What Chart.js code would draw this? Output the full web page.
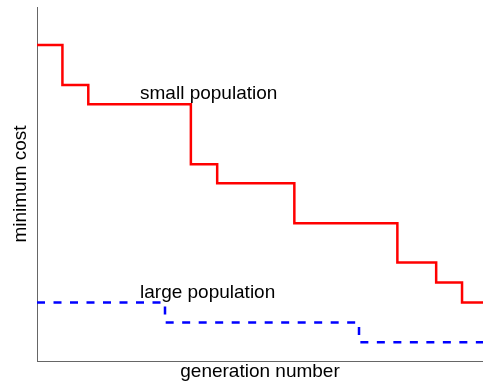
<!DOCTYPE html>
<html>
<head>
<meta charset="utf-8">
<script src="https://cdn.jsdelivr.net/npm/chart.js@4"></script>
<style>
    html, body { margin: 0; padding: 0; background: #fff; }
    #wrap { width: 483px; height: 389px; }
</style>
</head>
<body>
<div id="wrap"><canvas id="grafico"></canvas></div>
<script>
// step positions (generation) and minimum cost levels
const smallGen = [0, 5.7, 11.5, 34.5, 40.4, 57.7, 80.8, 89.5, 95.3, 100];
const smallCost = [89.3, 78.0, 72.5, 55.6, 50.2, 38.9, 27.8, 22.2, 16.5, 16.5];
const largeGen = [0, 28.7, 72.2, 100];
const largeCost = [16.5, 10.9, 5.3, 5.3];

const labelText = ['small population', 'large population'];
const labelGen = [23.1, 23.1];
const labelCost = [73.9, 17.9];

function pontos(xs, ys) {
    return xs.map(function (x, i) { return { x: x, y: ys[i] }; });
}

const textos = {
    id: 'textos',
    afterDatasetsDraw(chart) {
        const ctx = chart.ctx;
        const sx = chart.scales.x, sy = chart.scales.y;
        ctx.save();
        ctx.font = '19px "Liberation Sans", Arial, sans-serif';
        ctx.fillStyle = '#000';
        ctx.textBaseline = 'alphabetic';
        ctx.textAlign = 'left';
        labelText.forEach(function (t, i) {
            ctx.fillText(t, sx.getPixelForValue(labelGen[i]), sy.getPixelForValue(labelCost[i]));
        });
        ctx.restore();
    }
};

const fonte = { family: '"Liberation Sans", Arial, sans-serif', size: 19, lineHeight: 1 };

new Chart(document.getElementById('grafico'), {
    type: 'line',
    data: {
        datasets: [
            {
                label: 'small population',
                data: pontos(smallGen, smallCost),
                borderColor: '#ff0000',
                borderWidth: 2.5,
                stepped: 'before',
                pointRadius: 0,
                fill: false
            },
            {
                label: 'large population',
                data: pontos(largeGen, largeCost),
                borderColor: '#0000ff',
                borderWidth: 2.5,
                borderDash: [8, 8.5],
                stepped: 'before',
                pointRadius: 0,
                fill: false
            }
        ]
    },
    options: {
        responsive: true,
        maintainAspectRatio: false,
        animation: false,
        layout: { padding: { top: 7, right: 0, bottom: 0, left: 0 } },
        plugins: {
            legend: { display: false },
            tooltip: { enabled: false }
        },
        scales: {
            x: {
                type: 'linear',
                min: 0,
                max: 100,
                ticks: { display: false },
                grid: { display: false, drawTicks: false },
                border: { color: '#666', width: 1 },
                title: {
                    display: true,
                    text: 'generation number',
                    color: '#000',
                    font: fonte,
                    padding: { top: 1, bottom: 8 }
                }
            },
            y: {
                type: 'linear',
                min: 0,
                max: 100,
                ticks: { display: false },
                grid: { display: false, drawTicks: false },
                border: { color: '#666', width: 1 },
                title: {
                    display: true,
                    text: 'minimum cost',
                    color: '#000',
                    font: fonte,
                    padding: { top: 11, bottom: 7 }
                }
            }
        }
    },
    plugins: [textos]
});
</script>
</body>
</html>
